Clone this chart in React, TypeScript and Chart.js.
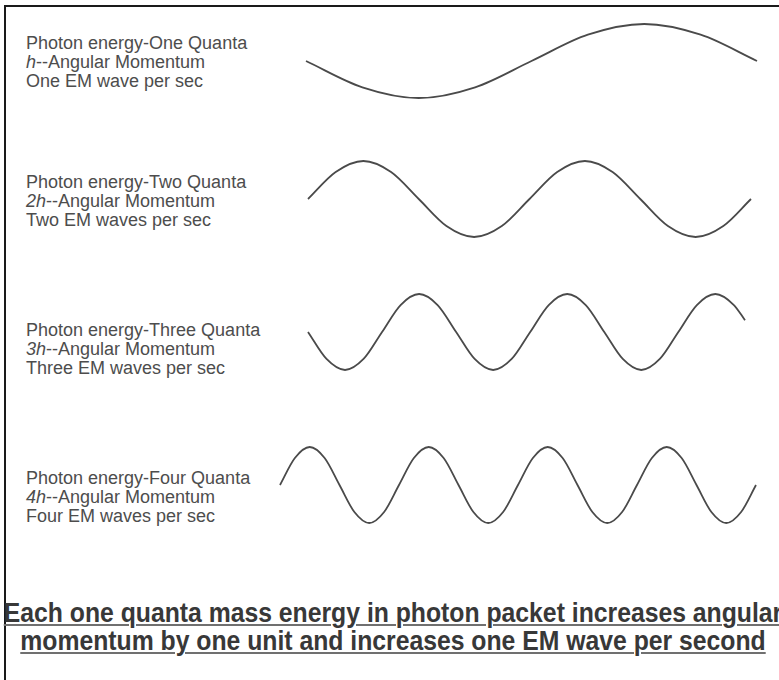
import React, { useEffect, useRef } from "react";
import { Chart, registerables } from "chart.js";
Chart.register(...registerables);

// ---- text content ----
const titles = [
  "Photon energy-One Quanta",
  "Photon energy-Two Quanta",
  "Photon energy-Three Quanta",
  "Photon energy-Four Quanta",
];
const momenta = ["h", "2h", "3h", "4h"];
const momentumSuffix = "--Angular Momentum";
const waveRates = [
  "One EM wave per sec",
  "Two EM waves per sec",
  "Three EM waves per sec",
  "Four EM waves per sec",
];
const captionLine1 = "Each one quanta mass energy in photon packet increases angular";
const captionLine2 = "momentum by one unit and increases one EM wave per second";

// ---- wave data (phase in cycles, normalised displacement) ----
const phase1 = [0, 0.125, 0.25, 0.375, 0.5, 0.625, 0.75, 0.875, 1];
const wave1 = [0, -0.71, -1, -0.71, 0, 0.71, 1, 0.71, 0];

const phase2 = [0, 0.125, 0.25, 0.375, 0.5, 0.625, 0.75, 0.875, 1, 1.125, 1.25, 1.375, 1.5, 1.625, 1.75, 1.875, 2];
const wave2 = [0, 0.71, 1, 0.71, 0, -0.71, -1, -0.71, 0, 0.71, 1, 0.71, 0, -0.71, -1, -0.71, 0];

const phase3 = [0, 0.125, 0.25, 0.375, 0.5, 0.625, 0.75, 0.875, 1, 1.125, 1.25, 1.375, 1.5, 1.625, 1.75, 1.875, 2, 2.125, 2.25, 2.375, 2.5, 2.625, 2.75, 2.875, 2.95];
const wave3 = [0, -0.71, -1, -0.71, 0, 0.71, 1, 0.71, 0, -0.71, -1, -0.71, 0, 0.71, 1, 0.71, 0, -0.71, -1, -0.71, 0, 0.71, 1, 0.71, 0.31];

const phase4 = [0, 0.125, 0.25, 0.375, 0.5, 0.625, 0.75, 0.875, 1, 1.125, 1.25, 1.375, 1.5, 1.625, 1.75, 1.875, 2, 2.125, 2.25, 2.375, 2.5, 2.625, 2.75, 2.875, 3, 3.125, 3.25, 3.375, 3.5, 3.625, 3.75, 3.875, 4];
const wave4 = [0, 0.71, 1, 0.71, 0, -0.71, -1, -0.71, 0, 0.71, 1, 0.71, 0, -0.71, -1, -0.71, 0, 0.71, 1, 0.71, 0, -0.71, -1, -0.71, 0, 0.71, 1, 0.71, 0, -0.71, -1, -0.71, 0];

// ---- layout (pixels) ----
const PAD = 4;
const waveLayouts = [
  { left: 306, period: 451, center: 60.5, amp: 37 },
  { left: 308, period: 221.5, center: 199.3, amp: 38 },
  { left: 308, period: 148, center: 332, amp: 38 },
  { left: 280, period: 119, center: 485.3, amp: 38 },
];
const labelTops = [34.3, 172.6, 321, 469.3];

const LINE_COLOR = "#4a4a4a";
const TEXT_COLOR = "#4d4d4d";

function Wave({ phase, values, layout }: { phase: number[]; values: number[]; layout: any }) {
  const ref = useRef<HTMLCanvasElement | null>(null);
  const span = phase[phase.length - 1];
  const w = Math.round(span * layout.period + 2 * PAD);
  const h = Math.round(2 * layout.amp + 2 * PAD);
  useEffect(() => {
    if (!ref.current) return;
    const chart = new Chart(ref.current, {
      type: "line",
      data: {
        datasets: [
          {
            data: phase.map((p, i) => ({ x: p, y: values[i] })),
            borderColor: LINE_COLOR,
            borderWidth: 1.8,
            pointRadius: 0,
            cubicInterpolationMode: "monotone",
            fill: false,
            clip: false as any,
          },
        ],
      },
      options: {
        animation: false,
        responsive: false,
        maintainAspectRatio: false,
        devicePixelRatio: 1,
        events: [],
        layout: { padding: PAD },
        plugins: { legend: { display: false }, tooltip: { enabled: false } },
        scales: {
          x: { type: "linear", display: false, min: 0, max: span },
          y: { type: "linear", display: false, min: -1, max: 1 },
        },
      },
    });
    return () => chart.destroy();
  }, []);
  return (
    <canvas
      ref={ref}
      width={w}
      height={h}
      style={{
        position: "absolute",
        left: layout.left - PAD,
        top: layout.center - layout.amp - PAD,
        width: w,
        height: h,
      }}
    />
  );
}

export default function App() {
  const phases = [phase1, phase2, phase3, phase4];
  const waves = [wave1, wave2, wave3, wave4];
  return (
    <div
      style={{
        position: "absolute",
        left: 0,
        top: 0,
        width: 779,
        height: 680,
        overflow: "hidden",
        background: "#ffffff",
      }}
    >
      <div style={{ position: "absolute", left: 4, top: 5, width: 800, height: 2, background: "#1a1a1a" }} />
      <div style={{ position: "absolute", left: 4, top: 5, width: 2, height: 700, background: "#1a1a1a" }} />
      {titles.map((t, i) => (
        <div
          key={i}
          style={{
            position: "absolute",
            left: 26,
            top: labelTops[i],
            font: "18px 'Liberation Sans', Arial, sans-serif",
            lineHeight: "19px",
            color: TEXT_COLOR,
            whiteSpace: "nowrap",
          }}
        >
          <div>{t}</div>
          <div>
            <i>{momenta[i]}</i>
            {momentumSuffix}
          </div>
          <div>{waveRates[i]}</div>
        </div>
      ))}
      {phases.map((p, i) => (
        <Wave key={i} phase={p} values={waves[i]} layout={waveLayouts[i]} />
      ))}
      <div
        style={{
          position: "absolute",
          left: -107,
          top: 598.5,
          width: 1000,
          textAlign: "center",
          font: "bold 27.5px 'Liberation Sans', Arial, sans-serif",
          lineHeight: "28px",
          color: "#383838",
          whiteSpace: "nowrap",
          transform: "scaleX(0.9)",
          transformOrigin: "500px 0px",
        }}
      >
        {[captionLine1, captionLine2].map((line, i) => (
          <div key={i}>
            <span
              style={{
                textDecoration: "underline",
                textDecorationColor: "#707070",
                textDecorationThickness: "2px",
                textUnderlineOffset: "2px",
              }}
            >
              {line}
            </span>
          </div>
        ))}
      </div>
    </div>
  );
}
